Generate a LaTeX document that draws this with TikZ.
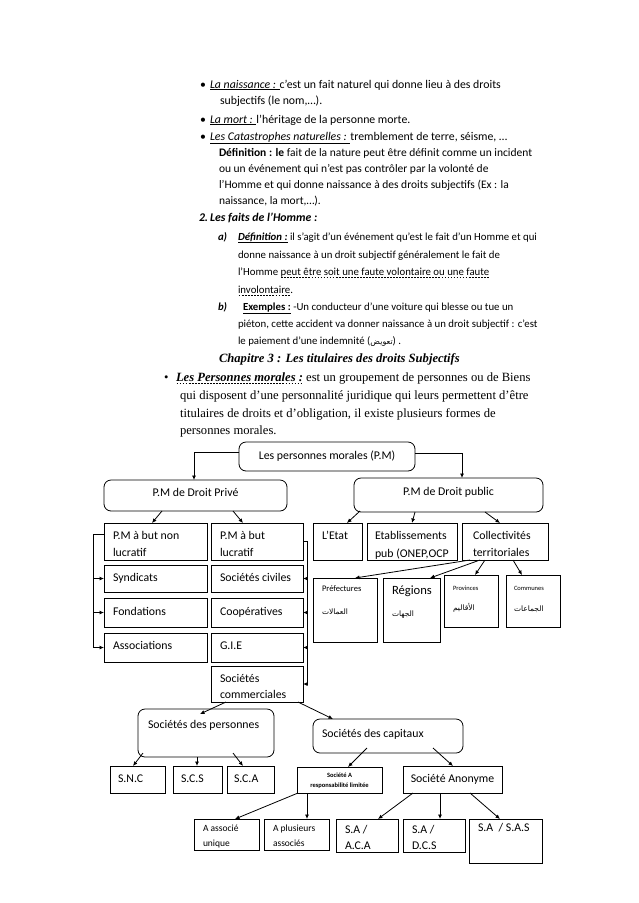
\documentclass[tikz,border=0pt]{standalone}
\usepackage{fontspec}
\setmainfont{Carlito}
\newfontfamily\tnr{Liberation Serif}
\newfontfamily\arab[Script=Arabic]{DejaVu Sans}
\usetikzlibrary{arrows.meta,calc}
\TeXXeTstate=1
\newsavebox\dulbox
\newcommand{\dul}[1]{\sbox\dulbox{#1}\rlap{\raisebox{-2.2pt}{\hbox to \wd\dulbox{\xleaders\hbox to 3pt{\hss\rule{1.8pt}{0.45pt}\hss}\hfill}}}\usebox\dulbox}
\newcommand{\bx}[6]{\node[#6, minimum width=#4pt-#2pt, minimum height=#5pt-#3pt] (#1) at (#2,#3) {};}
\begin{document}
\begin{tikzpicture}[x=1pt,y=-1pt,
  box/.style={draw, line width=0.8pt, inner sep=0pt, outer sep=0pt, anchor=north west},
  rbox/.style={box, rounded corners=7pt},
  dt/.style={inner sep=0pt, outer sep=0pt, anchor=base west, font=\fontsize{11.8}{14}\selectfont},
  big/.style={inner sep=0pt, outer sep=0pt, anchor=base west, font=\fontsize{11.8}{14}\selectfont},
  mid/.style={inner sep=0pt, outer sep=0pt, anchor=base west, font=\fontsize{11.5}{14}\selectfont},
  body/.style={inner sep=0pt, outer sep=0pt, anchor=base west, font=\fontsize{10.8}{13}\selectfont},
  ser/.style={inner sep=0pt, outer sep=0pt, anchor=base west, font=\tnr\fontsize{12.6}{15}\selectfont},
  ar/.style={inner sep=0pt, outer sep=0pt, anchor=base west, font=\arab\fontsize{7.5}{9}\selectfont},
  arr/.style={-{Latex[length=4.5pt,width=4pt]}, line width=0.8pt},
  ln/.style={line width=0.8pt}]
\fill[white] (0,0) rectangle (638,903);
\useasboundingbox (0,0) rectangle (638,903);

% ---------- body text ----------
\node[big] (bu1) at (200,88) {\textbullet};
\node[big] (l1) at (210,88) {\underline{\textit{La naissance : }}c’est un fait naturel qui donne lieu à des droits};
\node[big] (l2) at (220,104.5) {subjectifs (le nom,…).};
\node[big] (bu2) at (200,123) {\textbullet};
\node[big] (l3) at (210,123) {\underline{\textit{La mort : }}l’héritage de la personne morte.};
\node[big] (bu3) at (200,140) {\textbullet};
\node[big] (l4) at (210,140) {\underline{\textit{Les Catastrophes naturelles : }}tremblement de terre, séisme, …};
\node[mid] (l5) at (219,156) {\textbf{Définition : le} fait de la nature peut être définit comme un incident};
\node[mid] (l6) at (219,172) {ou un événement qui n’est pas contrôler par la volonté de};
\node[mid] (l7) at (219,188) {l’Homme et qui donne naissance à des droits subjectifs (Ex : la};
\node[mid] (l8) at (219,204) {naissance, la mort,…).};
\node[big] (l9) at (199,221) {\textbf{\textit{2.\,Les faits de l’Homme :}}};
\node[body] (l10a) at (218,240) {\textbf{\textit{a)}}};
\node[body] (l10) at (238,240) {\textbf{\textit{\underline{Définition :}}} il s’agit d’un événement qu’est le fait d’un Homme et qui};
\node[body] (l11) at (238,258) {donne naissance à un droit subjectif généralement le fait de};
\node[body] (l12) at (238,275.5) {l’Homme \dul{peut être soit une faute volontaire ou une faute}};
\node[body] (l13) at (238,293) {\dul{involontaire}.};
\node[body] (l14a) at (218,310) {\textbf{\textit{b)}}};
\node[body] (l14) at (243,310) {\textbf{\underline{Exemples :}} -Un conducteur d’une voiture qui blesse ou tue un};
\node[body] (l15) at (238,327) {piéton, cette accident va donner naissance à un droit subjectif : c’est};
\node[body] (l16) at (238,344) {le paiement d’une indemnité ({\arab\fontsize{8}{9}\selectfont\beginR تعويض\endR}) .};

\node[ser] (ch) at (219,362) {\bfseries\itshape Chapitre 3 : Les titulaires des droits Subjectifs};
\node[ser] (bu4) at (164,381) {\textbullet};
\node[ser] (tp1) at (176,381) {\textbf{\textit{\dul{Les Personnes morales :}}} est un groupement de personnes ou de Biens};
\node[ser] (tp2) at (180,399) {qui disposent d’une personnalité juridique qui leurs permettent d’être};
\node[ser] (tp3) at (180,417) {titulaires de droits et d’obligation, il existe plusieurs formes de};
\node[ser] (tp4) at (180,434) {personnes morales.};

% ---------- boxes ----------
\bx{root}{239}{442}{415}{471}{rbox}
\bx{priv}{104}{480}{287}{511}{rbox}
\bx{pub}{354}{478}{543}{512}{rbox}
\bx{nonlucr}{104}{523}{207}{560}{box}
\bx{lucr}{211}{523}{303}{560}{box}
\bx{etat}{313}{523}{362}{560}{box}
\bx{etab}{367}{523}{457}{560}{box}
\bx{coll}{462}{523}{548}{560}{box}
\bx{synd}{104}{565}{207}{592}{box}
\bx{fond}{104}{598}{207}{627}{box}
\bx{assoc}{104}{633}{207}{662}{box}
\bx{civ}{211}{565}{303}{592}{box}
\bx{coop}{211}{598}{303}{627}{box}
\bx{gie}{211}{633}{303}{662}{box}
\bx{comm}{211}{666}{303}{702}{box}
\bx{pref}{313}{578}{377}{642}{box}
\bx{reg}{383}{578}{440}{642}{box}
\bx{prov}{444}{575}{498}{627}{box}
\bx{commu}{506}{575}{560}{627}{box}
\bx{spers}{138}{709}{274}{757}{rbox}
\bx{scap}{313}{719}{463}{753}{rbox}
\bx{snc}{110}{766}{165}{793}{box}
\bx{scs}{173}{766}{222}{793}{box}
\bx{sca}{227}{766}{274}{793}{box}
\bx{sarl}{297}{767}{382}{793}{box}
\bx{sa}{403}{766}{502}{793}{box}
\bx{aunique}{194}{819}{259}{850}{box}
\bx{aplus}{264}{819}{329}{850}{box}
\bx{saaca}{336}{819}{398}{852}{box}
\bx{sadcs}{403}{819}{465}{852}{box}
\bx{sasas}{469}{819}{542}{863}{box}

% ---------- box texts ----------
\node[dt, anchor=center] (rootT) at (root.center) {Les personnes morales (P.M)};
\node[dt, anchor=center] (privT) at ([yshift=3pt]priv.center) {P.M de Droit Privé};
\node[dt, anchor=center] (pubT) at ([yshift=3pt]pub.center) {P.M de Droit public};
\node[dt] (nl1) at (113,539) {P.M à but non};
\node[dt] (nl2) at (113,556) {lucratif};
\node[dt] (lu1) at (220,539) {P.M à but};
\node[dt] (lu2) at (220,556) {lucratif};
\node[dt] (etT) at (322,539) {L’Etat};
\node[dt] (eb1) at (375,539) {Etablissements};
\node[dt] (eb2) at (375,557) {pub (ONEP,OCP};
\node[dt] (co1) at (473,539) {Collectivités};
\node[dt] (co2) at (473,556) {territoriales};
\node[dt] (syT) at (113,581) {Syndicats};
\node[dt] (foT) at (113,615) {Fondations};
\node[dt] (asT) at (113,649) {Associations};
\node[dt] (ciT) at (220,581) {Sociétés civiles};
\node[dt] (cpT) at (220,615) {Coopératives};
\node[dt] (giT) at (220,649) {G.I.E};
\node[dt] (cm1) at (220,682) {Sociétés};
\node[dt] (cm2) at (220,698) {commerciales};
\node[dt, font=\fontsize{8.5}{10}\selectfont] (prT) at (322,591) {Préfectures};
\node[ar] (prA) at (322,614) {\beginR العمالات\endR};
\node[dt, font=\fontsize{12.6}{14}\selectfont] (rgT) at (392,594) {Régions};
\node[ar] (rgA) at (392,616) {\beginR الجهات\endR};
\node[dt, font=\fontsize{6.5}{8}\selectfont] (pvT) at (453,590) {Provinces};
\node[ar] (pvA) at (453,610) {\beginR الأقاليم\endR};
\node[dt, font=\fontsize{6.5}{8}\selectfont] (cuT) at (514,590) {Communes};
\node[ar] (cuA) at (514,611) {\beginR الجماعات\endR};
\node[dt] (spT) at (148,728) {Sociétés des personnes};
\node[dt] (scT) at (322,737) {Sociétés des capitaux};
\node[dt] (sncT) at (118,782) {S.N.C};
\node[dt] (scsT) at (181,782) {S.C.S};
\node[dt] (scaT) at (234,782) {S.C.A};
\node[dt, anchor=base, font=\bfseries\fontsize{6.5}{8}\selectfont] (sl1) at (339.5,777) {Société A};
\node[dt, anchor=base, font=\bfseries\fontsize{6.5}{8}\selectfont] (sl2) at (339.5,787) {responsabilité limitée};
\node[dt, anchor=base] (saT) at (452.5,782) {Société Anonyme};
\node[dt, font=\fontsize{9.5}{11}\selectfont] (au1) at (203,831) {A associé};
\node[dt, font=\fontsize{9.5}{11}\selectfont] (au2) at (203,846) {unique};
\node[dt, font=\fontsize{9.5}{11}\selectfont] (ap1) at (273,831) {A plusieurs};
\node[dt, font=\fontsize{9.5}{11}\selectfont] (ap2) at (273,846) {associés};
\node[dt] (sa1) at (345,833) {S.A /};
\node[dt] (sa2) at (345,849) {A.C.A};
\node[dt] (sd1) at (412,833) {S.A /};
\node[dt] (sd2) at (412,849) {D.C.S};
\node[dt] (ssT) at (478,831) {S.A \ / S.A.S};

% ---------- connectors ----------
\draw[arr] ([yshift=4pt]root.west) -| ([xshift=90pt]priv.north west);
\draw[arr] ([yshift=3pt]root.east) -| ([xshift=108pt]pub.north west);
\draw[arr] ([xshift=58pt]priv.south west) -- ([xshift=48pt]nonlucr.north west);
\draw[arr] ([xshift=129pt]priv.south west) -- ([xshift=32pt]lucr.north west);
\draw[arr] ([xshift=6pt,yshift=1pt]pub.south west) -- ([xshift=34pt]etat.north west);
\draw[arr] ([xshift=61pt]pub.south west) -- ([xshift=45pt]etab.north west);
\draw[arr] ([xshift=131pt]pub.south west) -- ([xshift=38pt]coll.north west);

\coordinate (lb) at ($(nonlucr.north west)+(-11,11)$);
\draw[ln] (nonlucr.west |- lb) -- (lb) -- (lb |- assoc.west);
\draw[arr] (lb |- synd.west) -- (synd.west);
\draw[arr] (lb |- fond.west) -- (fond.west);
\draw[arr] (lb |- assoc.west) -- (assoc.west);

\coordinate (rb) at ($(lucr.north east)+(4,18)$);
\draw[ln] (lucr.east |- rb) -- (rb) -- (rb |- comm.east);
\draw[arr] (rb |- civ.east) -- (civ.east);
\draw[arr] (rb |- coop.east) -- (coop.east);
\draw[arr] (rb |- gie.east) -- (gie.east);
\draw[arr] (rb |- comm.east) -- (comm.east);

\draw[arr] ([xshift=8pt]coll.south west) -- ([xshift=42pt]pref.north west);
\draw[arr] ([xshift=18pt]coll.south west) -- ([xshift=47pt]reg.north west);
\draw[arr] ([xshift=23pt]coll.south west) -- ([xshift=31pt]prov.north west);
\draw[arr] ([xshift=51pt]coll.south west) -- ([xshift=16pt]commu.north west);

\draw[arr] ([xshift=15pt]comm.south west) -- ([xshift=62pt,yshift=-5pt]spers.north west);
\draw[arr] ([xshift=87pt]comm.south west) -- ([xshift=20pt]scap.north west);
\draw[arr] ([xshift=5pt,yshift=4pt]spers.south west) -- ([xshift=23pt]snc.north west);
\draw[arr] ([xshift=59pt]spers.south west) -- ([xshift=24pt]scs.north west);
\draw[arr] ([xshift=95pt,yshift=4pt]spers.south west) -- ([xshift=16pt]sca.north west);
\draw[arr] ([xshift=54pt,yshift=5pt]scap.south west) -- ([xshift=51pt]sarl.north west);
\draw[arr] ([xshift=120pt,yshift=5pt]scap.south west) -- ([xshift=50pt]sa.north west);
\draw[arr] ([xshift=1pt]sarl.south west) -- ([xshift=41pt]aunique.north west);
\draw[arr] ([xshift=10pt]sarl.south west) -- ([xshift=43pt]aplus.north west);
\draw[arr] ([xshift=10pt]sa.south west) -- ([xshift=42pt]saaca.north west);
\draw[arr] ([xshift=37pt]sa.south west) -- ([xshift=37pt]sadcs.north west);
\draw[arr] ([xshift=67pt]sa.south west) -- ([xshift=31pt]sasas.north west);
\end{tikzpicture}
\end{document}
